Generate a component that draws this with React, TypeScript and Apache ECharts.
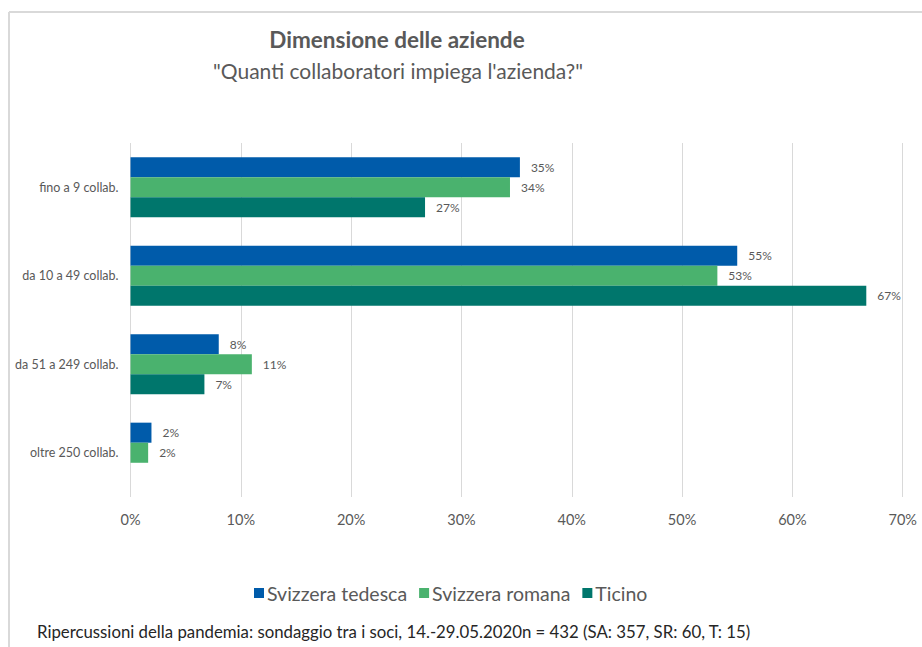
import React, { useEffect, useRef } from "react";
import * as echarts from "echarts";

const categories = ["fino a 9 collab.", "da 10 a 49 collab.", "da 51 a 249 collab.", "oltre 250 collab."];
const seriesNames = ["Svizzera tedesca", "Svizzera romana", "Ticino"];
const tedesca = [35.3, 55.0, 8.0, 1.9];
const romana = [34.4, 53.2, 11.0, 1.6];
const ticino = [26.7, 66.7, 6.7, 0];
const colors = ["#005BAA", "#4AB26E", "#00766C"];
const xTicks = { min: 0, max: 70, interval: 10 };
const titleText = "Dimensione delle aziende";
const subtitleText = "\"Quanti collaboratori impiega l'azienda?\"";
const footerText = "Ripercussioni della pandemia: sondaggio tra i soci, 14.-29.05.2020n = 432 (SA: 357, SR: 60, T: 15)";

const FONT = "Lato, 'Open Sans', sans-serif";

export default function App() {
  const ref = useRef<HTMLDivElement>(null);
  useEffect(() => {
    if (!ref.current) return;
    const chart = echarts.init(ref.current, undefined, { renderer: "svg" });
    const values = [tedesca, romana, ticino];
    chart.setOption({
      animation: false,
      backgroundColor: "#ffffff",
      textStyle: { fontFamily: FONT },
      grid: { left: 130.5, right: 19.3, top: 143, bottom: 150, containLabel: false },
      xAxis: {
        type: "value",
        min: xTicks.min,
        max: xTicks.max,
        interval: xTicks.interval,
        axisLine: { show: false },
        axisTick: { show: false },
        splitLine: { show: true, lineStyle: { color: "#d9d9d9", width: 1 } },
        axisLabel: {
          formatter: "{value}%",
          color: "#595959",
          fontSize: 14.5,
          fontFamily: FONT,
          margin: 15,
        },
      },
      yAxis: {
        type: "category",
        data: categories,
        inverse: true,
        axisLine: { show: false },
        axisTick: { show: false },
        axisLabel: { color: "#595959", fontSize: 12.5, fontFamily: FONT, margin: 12 },
      },
      legend: {
        data: seriesNames,
        left: 249,
        top: 578,
        icon: "rect",
        itemWidth: 10,
        itemHeight: 10,
        itemGap: 12,
        textStyle: { color: "#595959", fontSize: 19.5, fontFamily: FONT, padding: [0, 0, 0, -2] },
      },
      series: seriesNames.map((name, i) => ({
        name,
        type: "bar",
        data: values[i],
        barGap: "0%",
        barCategoryGap: "32%",
        itemStyle: { color: colors[i] },
        label: {
          show: true,
          position: "right",
          distance: 11,
          color: "#595959",
          fontSize: 12,
          fontFamily: FONT,
          formatter: (p: any) => (p.value ? Math.round(p.value) + "%" : ""),
        },
      })),
      graphic: [
        { type: "line", shape: { x1: 9, y1: 12, x2: 922, y2: 12 }, style: { stroke: "#d9d9d9", lineWidth: 2 } },
        { type: "line", shape: { x1: 9, y1: 12, x2: 9, y2: 647 }, style: { stroke: "#d9d9d9", lineWidth: 2 } },
        {
          type: "text",
          x: 397,
          y: 39,
          style: {
            text: titleText,
            fill: "#595959",
            font: `bold 22.5px ${FONT}`,
            textAlign: "center",
            textVerticalAlign: "middle",
          },
        },
        {
          type: "text",
          x: 398,
          y: 70,
          style: {
            text: subtitleText,
            fill: "#595959",
            font: `21px ${FONT}`,
            textAlign: "center",
            textVerticalAlign: "middle",
          },
        },
        {
          type: "text",
          x: 37,
          y: 631,
          style: {
            text: footerText,
            fill: "#262626",
            font: `16.8px ${FONT}`,
            textAlign: "left",
            textVerticalAlign: "middle",
          },
        },
      ],
    });
    return () => chart.dispose();
  }, []);
  return <div ref={ref} style={{ position: "absolute", left: 0, top: 0, width: 922, height: 647 }} />;
}
